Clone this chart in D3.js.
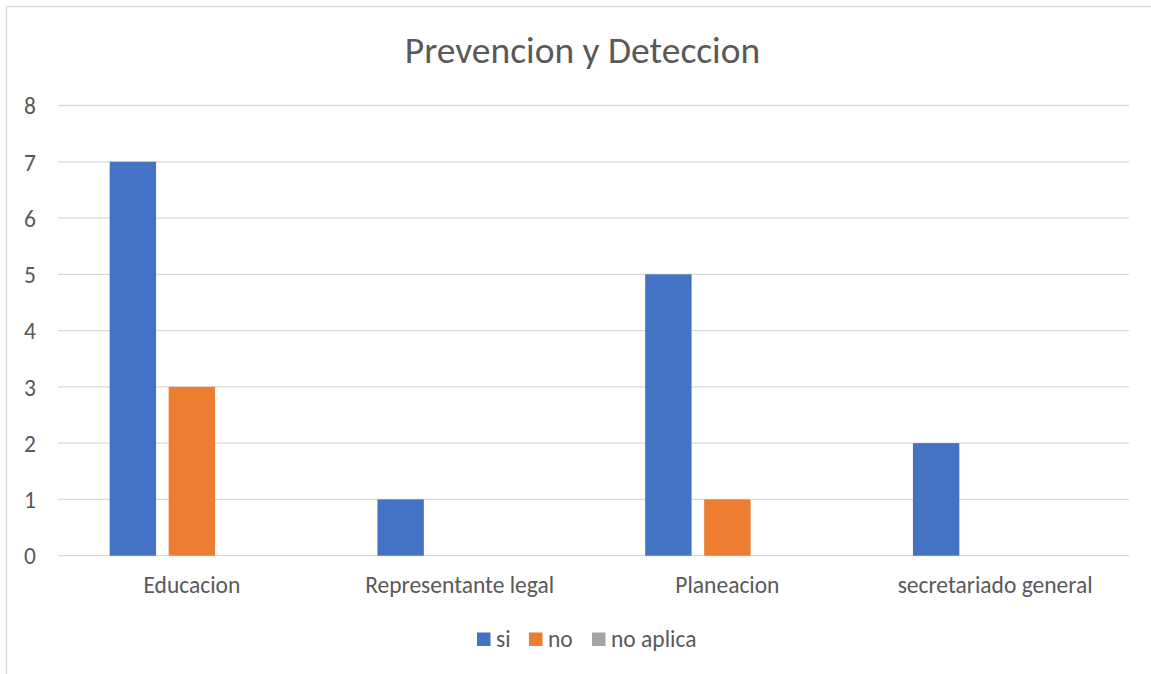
<!DOCTYPE html>
<html>
<head>
<meta charset="utf-8">
<script src="https://cdn.jsdelivr.net/npm/d3@7"></script>
<style>
  html, body { margin: 0; padding: 0; background: #fff; }
  svg { display: block; }
  text { font-family: Carlito, Calibri, Lato, "Open Sans", sans-serif; fill: #595959; }
</style>
</head>
<body>
<svg id="chart" width="1151" height="674"></svg>
<script>
// Categories, series and values
const categories = ["Educacion", "Representante legal", "Planeacion", "secretariado general"];
const seriesNames = ["si", "no", "no aplica"];
const siValues = [7, 1, 5, 2];
const noValues = [3, 0, 1, 0];
const noAplicaValues = [0, 0, 0, 0];
const seriesColors = ["#4472C4", "#ED7D31", "#A5A5A5"];
const yTicks = [0, 1, 2, 3, 4, 5, 6, 7, 8];
const title = "Prevencion y Deteccion";

const seriesValues = [siValues, noValues, noAplicaValues];
const FONT = "Carlito, Calibri, Lato, 'Open Sans', sans-serif";
const LABEL_SIZE = 23.5;

const svg = d3.select("#chart");

// outer chart frame (extends past the right and bottom edges)
svg.append("rect")
  .attr("x", 6.5).attr("y", 6.5)
  .attr("width", 1200).attr("height", 700)
  .attr("fill", "#fff")
  .attr("stroke", "#d9d9d9")
  .attr("stroke-width", 1.3);

const plot = { left: 58, right: 1129, top: 105.5, bottom: 555.7 };

const x0 = d3.scaleBand()
  .domain(categories)
  .range([plot.left, plot.right])
  .padding(0);

const x1 = d3.scaleBand()
  .domain(seriesNames)
  .range([0, x0.bandwidth()])
  .paddingInner(0.2136)
  .paddingOuter(0.876);

const y = d3.scaleLinear()
  .domain([0, 8])
  .range([plot.bottom, plot.top]);

// gridlines
svg.append("g")
  .selectAll("line")
  .data(yTicks)
  .join("line")
  .attr("x1", plot.left).attr("x2", plot.right)
  .attr("y1", d => y(d)).attr("y2", d => y(d))
  .attr("stroke", "#d9d9d9")
  .attr("stroke-width", 1.3);

// y axis labels
const yAxis = d3.axisLeft(y).tickValues(yTicks).tickSize(0).tickPadding(0).tickFormat(d3.format("d"));
const yg = svg.append("g")
  .attr("transform", `translate(36,0)`)
  .call(yAxis);
yg.select(".domain").remove();
yg.selectAll("text")
  .attr("font-size", LABEL_SIZE)
  .attr("dy", "0.35em")
  .attr("fill", "#595959")
  .style("font-family", FONT);

// bars
const groups = svg.append("g")
  .selectAll("g")
  .data(categories)
  .join("g")
  .attr("transform", d => `translate(${x0(d)},0)`);

groups.selectAll("rect")
  .data((c, i) => seriesNames.map((s, k) => ({ s, v: seriesValues[k][i], k })))
  .join("rect")
  .attr("x", d => x1(d.s))
  .attr("width", x1.bandwidth())
  .attr("y", d => y(d.v))
  .attr("height", d => y(0) - y(d.v))
  .attr("fill", d => seriesColors[d.k]);

// category axis labels
const xAxis = d3.axisBottom(x0).tickSize(0).tickPadding(0);
const xg = svg.append("g")
  .attr("transform", `translate(0,593)`)
  .call(xAxis);
xg.select(".domain").remove();
xg.selectAll("text")
  .attr("dy", 0)
  .attr("font-size", LABEL_SIZE)
  .attr("fill", "#595959")
  .style("font-family", FONT);

// title
svg.append("text")
  .attr("x", 582.5)
  .attr("y", 63)
  .attr("text-anchor", "middle")
  .attr("font-size", 37.5)
  .text(title);

// legend
const legendItems = [
  { name: "si", sx: 477, tx: 496 },
  { name: "no", sx: 529, tx: 548 },
  { name: "no aplica", sx: 592, tx: 611 }
];
const lg = svg.append("g");
lg.selectAll("rect")
  .data(legendItems)
  .join("rect")
  .attr("x", d => d.sx)
  .attr("y", 632.5)
  .attr("width", 13.5)
  .attr("height", 13.5)
  .attr("fill", d => seriesColors[seriesNames.indexOf(d.name)]);
lg.selectAll("text")
  .data(legendItems)
  .join("text")
  .attr("x", d => d.tx)
  .attr("y", 646.5)
  .attr("font-size", LABEL_SIZE)
  .text(d => d.name);
</script>
</body>
</html>
